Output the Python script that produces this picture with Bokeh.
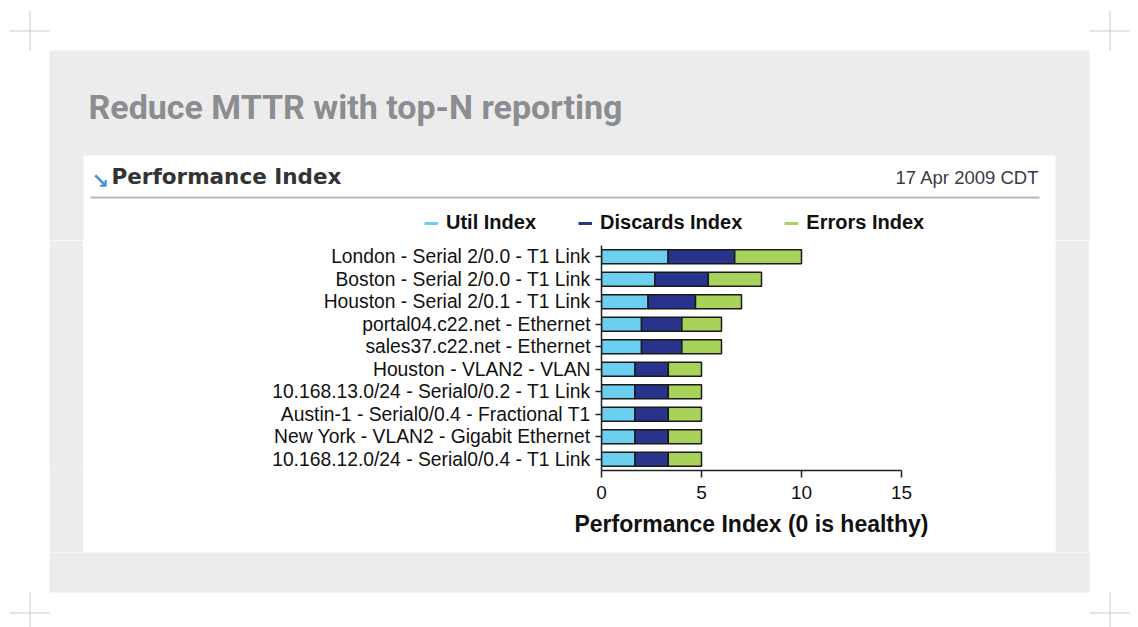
from bokeh.plotting import figure
from bokeh.layouts import column, row
from bokeh.models import Legend, LegendItem, Range1d, FixedTicker, ColumnDataSource
from bokeh.core.properties import value
from bokeh.embed import file_html
from bokeh.resources import INLINE

# ---------------- data ----------------
interfaces = [
    "London - Serial 2/0.0 - T1 Link",
    "Boston - Serial 2/0.0 - T1 Link",
    "Houston - Serial 2/0.1 - T1 Link",
    "portal04.c22.net - Ethernet",
    "sales37.c22.net - Ethernet",
    "Houston - VLAN2 - VLAN",
    "10.168.13.0/24 - Serial0/0.2 - T1 Link",
    "Austin-1 - Serial0/0.4 - Fractional T1",
    "New York - VLAN2 - Gigabit Ethernet",
    "10.168.12.0/24 - Serial0/0.4 - T1 Link",
]
util_index = [3.33, 2.67, 2.33, 2.0, 2.0, 1.67, 1.67, 1.67, 1.67, 1.67]
discards_index = [3.33, 2.67, 2.37, 2.02, 2.02, 1.67, 1.67, 1.67, 1.67, 1.67]
errors_index = [3.34, 2.66, 2.30, 1.98, 1.98, 1.66, 1.66, 1.66, 1.66, 1.66]
series_names = ["Util Index", "Discards Index", "Errors Index"]
series_keys = ["util", "discards", "errors"]
series_colors = ["#6dcff0", "#28338c", "#a8d25a"]
x_ticks = [0, 5, 10, 15]

title_text = "Reduce MTTR with top-N reporting"
panel_title = "Performance Index"
date_text = "17 Apr 2009 CDT"
x_axis_title = "Performance Index (0 is healthy)"

PANEL = "#ececec"
CROSS = "#c9c9c9"
PAGE_W = 1138


def deco(x0, x1, y0, y1):
    """A plain drawing surface whose data units are page pixels (y downward)."""
    f = figure(width=x1 - x0, height=y1 - y0, x_range=Range1d(x0, x1),
               y_range=Range1d(y1, y0), x_axis_type=None, y_axis_type=None,
               output_backend="svg", toolbar_location=None, min_border=0)
    f.outline_line_color = None
    f.xgrid.visible = False
    f.ygrid.visible = False
    f.background_fill_color = "white"
    f.border_fill_color = "white"
    return f


def solid(w, h, color):
    f = figure(width=w, height=h, x_axis_type=None, y_axis_type=None,
               output_backend="svg", toolbar_location=None, min_border=0)
    f.outline_line_color = None
    f.xgrid.visible = False
    f.ygrid.visible = False
    f.background_fill_color = color
    f.border_fill_color = color
    return f


def cross_h(f, y, xa, xb):
    f.segment(x0=[xa], x1=[xb], y0=[y], y1=[y], line_color=CROSS, line_width=1)


def cross_v(f, x, ya, yb):
    f.segment(x0=[x], x1=[x], y0=[ya], y1=[yb], line_color=CROSS, line_width=1)


# ---------------- top strip: crosshairs, grey panel, title, card header ----------------
top = deco(0, PAGE_W, 0, 240)
top.quad(left=[49], right=[1089], top=[50], bottom=[250], fill_color=PANEL, line_color=None)
top.quad(left=[83], right=[1055], top=[155], bottom=[250], fill_color="white", line_color=None)
cross_h(top, 30.5, 9, 49)
cross_v(top, 29.5, 10, 50)
cross_h(top, 30.5, 1089, 1129)
cross_v(top, 1109.5, 10, 50)
top.text(x=[88], y=[106], text=[title_text], text_font=value("Roboto"),
         text_font_style="bold", text_font_size="34px", text_color="#8b8d90",
         text_baseline="alphabetic")

top.text(x=[91], y=[180], text=["\u2198"], text_font=value("DejaVu Sans"),
         text_font_style="bold", text_font_size="21px", text_color="#4a8fd6",
         text_baseline="alphabetic")
top.text(x=[111], y=[176], text=[panel_title], text_font=value("DejaVu Sans"),
         text_font_style="bold", text_font_size="21.5px", text_color="#333333",
         text_baseline="alphabetic")
top.text(x=[1039], y=[177], text=[date_text], text_font=value("Liberation Sans"),
         text_font_size="18.5px", text_color="#3a3a48", text_align="right",
         text_baseline="alphabetic")
top.segment(x0=[90], x1=[1039], y0=[197], y1=[197], line_color="#b8b8b8", line_width=2)

items = []
for name, col in zip(series_names, series_colors):
    r = top.line(x=[float("nan")], y=[float("nan")], line_color=col, line_width=3)
    items.append(LegendItem(label=name, renderers=[r]))
legend = Legend(items=items, orientation="horizontal", location=(424, 6),
                glyph_width=14, glyph_height=20, label_height=20,
                label_standoff=8, spacing=42, padding=0, margin=0,
                border_line_color=None, background_fill_alpha=0,
                label_text_font="Liberation Sans", label_text_font_style="bold",
                label_text_font_size="20px", label_text_color="#111111")
top.add_layout(legend, "center")

# ---------------- bottom strip ----------------
bottom = deco(0, PAGE_W, 552, 627)
bottom.quad(left=[49], right=[1089], top=[542], bottom=[592], fill_color=PANEL, line_color=None)
cross_h(bottom, 612.5, 9, 49)
cross_v(bottom, 29.5, 592, 627)
cross_h(bottom, 612.5, 1089, 1129)
cross_v(bottom, 1109.5, 592, 627)

# ---------------- bar chart ----------------
source = ColumnDataSource(dict(iface=interfaces, util=util_index,
                               discards=discards_index, errors=errors_index))

p = figure(width=972, height=312, y_range=list(reversed(interfaces)),
           x_range=Range1d(0, 15), output_backend="svg", toolbar_location=None,
           min_border_left=518, min_border_right=154,
           min_border_top=5, min_border_bottom=82)
p.outline_line_color = None
p.background_fill_color = "white"
p.border_fill_color = "white"
p.xgrid.visible = False
p.ygrid.visible = False

p.hbar_stack(series_keys, y="iface", height=0.62, source=source,
             fill_color=series_colors, line_color="#1a1a1a", line_width=1.5)

ax = p.yaxis[0]
ax.major_label_text_font = "Liberation Sans"
ax.major_label_text_font_size = "19.3px"
ax.major_label_text_color = "#111111"
ax.major_tick_out = 6
ax.major_tick_in = 0
ax.major_label_standoff = 5
ax.axis_line_color = "#222222"
ax.axis_line_width = 1.5
ax.major_tick_line_color = "#222222"
ax.major_tick_line_width = 1.5

bx = p.xaxis[0]
bx.ticker = FixedTicker(ticks=x_ticks)
bx.minor_tick_line_color = None
bx.major_tick_out = 7
bx.major_tick_in = 0
bx.major_label_standoff = 8
bx.major_label_text_font = "Liberation Sans"
bx.major_label_text_font_size = "19px"
bx.major_label_text_color = "#111111"
bx.axis_line_color = "#222222"
bx.axis_line_width = 1.5
bx.major_tick_line_color = "#222222"
bx.major_tick_line_width = 1.5
bx.axis_label = x_axis_title
bx.axis_label_text_font = "Liberation Sans"
bx.axis_label_text_font_style = "bold"
bx.axis_label_text_font_size = "23px"
bx.axis_label_text_color = "#111111"
bx.axis_label_standoff = 9

middle = row(solid(49, 312, "white"), solid(34, 312, PANEL), p,
             solid(34, 312, PANEL), solid(49, 312, "white"), spacing=0)
page = column(top, middle, bottom, spacing=0)

open("out.html", "w").write(file_html(page, INLINE))
